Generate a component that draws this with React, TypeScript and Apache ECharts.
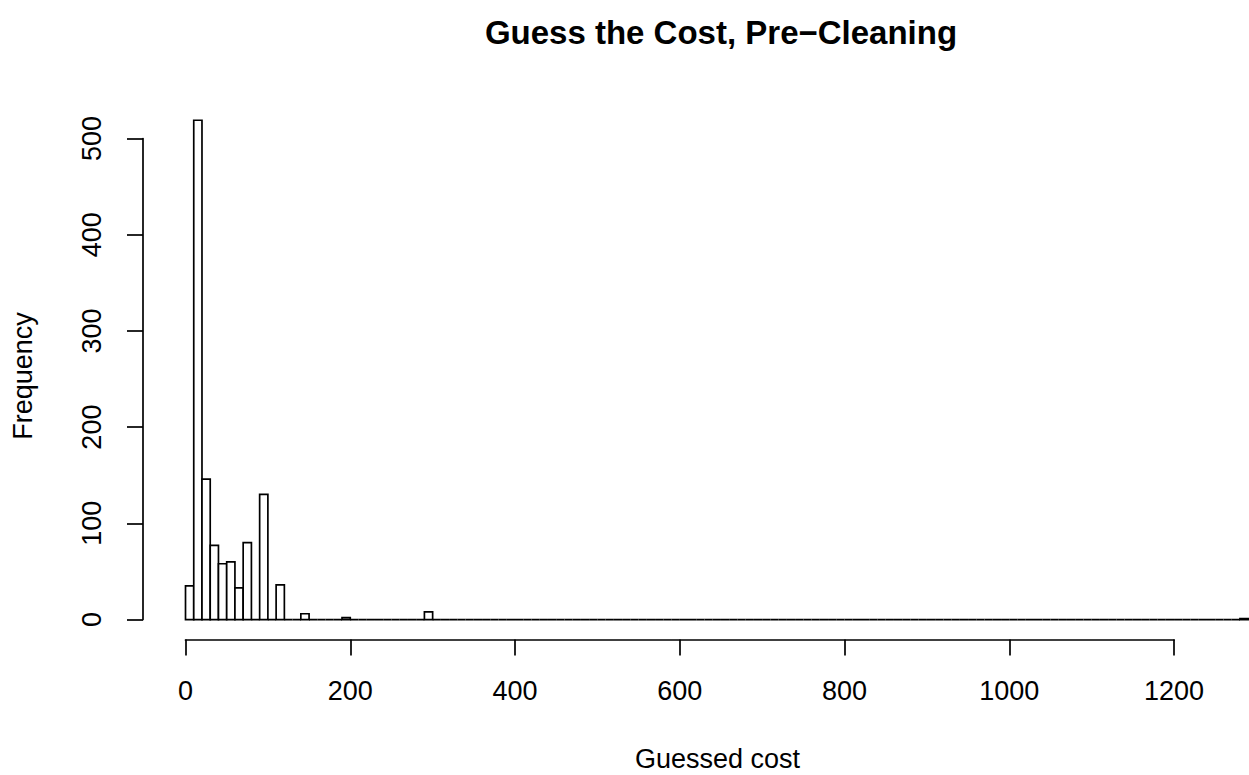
import React, { useEffect, useRef } from "react";
import * as echarts from "echarts";

// Histogram of guessed cost, bins of width 10 from 0 to 1290
const binStart = 0;
const binWidth = 10;
const counts: number[] = [
  35, 519, 146, 77, 58, 60, 33, 80, 0, 130,
  0, 36, 0, 0, 6, 0, 0, 0, 0, 2,
  0, 0, 0, 0, 0, 0, 0, 0, 0, 8,
  0, 0, 0, 0, 0, 0, 0, 0, 0, 0,
  0, 0, 0, 0, 0, 0, 0, 0, 0, 0,
  0, 0, 0, 0, 0, 0, 0, 0, 0, 0,
  0, 0, 0, 0, 0, 0, 0, 0, 0, 0,
  0, 0, 0, 0, 0, 0, 0, 0, 0, 0,
  0, 0, 0, 0, 0, 0, 0, 0, 0, 0,
  0, 0, 0, 0, 0, 0, 0, 0, 0, 0,
  0, 0, 0, 0, 0, 0, 0, 0, 0, 0,
  0, 0, 0, 0, 0, 0, 0, 0, 0, 0,
  0, 0, 0, 0, 0, 0, 0, 0, 1,
];
const xTicks = [0, 200, 400, 600, 800, 1000, 1200];
const yTicks = [0, 100, 200, 300, 400, 500];

const TITLE = "Guess the Cost, Pre\u2212Cleaning";
const XNAME = "Guessed cost";
const YNAME = "Frequency";

const FONT = "Liberation Sans, Arial, Helvetica, sans-serif";
const LW = 1.7;

export default function App() {
  const ref = useRef<HTMLDivElement>(null);
  useEffect(() => {
    if (!ref.current) return;
    const chart = echarts.init(ref.current, undefined, { renderer: "svg" });
    const binData = counts.map((c, i) => [
      binStart + i * binWidth,
      binStart + (i + 1) * binWidth,
      c,
    ]);
    const xMin = xTicks[0];
    const xMax = xTicks[xTicks.length - 1];
    const yMin = yTicks[0];
    const yMax = yTicks[yTicks.length - 1];
    const option: any = {
      animation: false,
      backgroundColor: "#ffffff",
      textStyle: { fontFamily: FONT },
      grid: [
        { left: 143, right: 0, top: 100.3, bottom: 135.5 },
        { left: 185.5, width: 988.6, top: 620, bottom: 135.5 },
        { left: 143, width: 20, top: 138.5, bottom: 155.5 },
      ],
      xAxis: [
        {
          gridIndex: 0,
          type: "value",
          min: -51.6,
          max: 1291,
          show: false,
        },
        {
          gridIndex: 1,
          type: "value",
          min: xMin,
          max: xMax,
          interval: 200,
          axisLine: { show: true, lineStyle: { color: "#000", width: LW } },
          axisTick: { show: true, length: 16, lineStyle: { color: "#000", width: LW } },
          axisLabel: {
            show: true,
            color: "#000",
            fontSize: 27,
            fontFamily: FONT,
            margin: 38,
            showMinLabel: true,
            showMaxLabel: true,
            formatter: (v: number) => String(v),
          },
          splitLine: { show: false },
        },
        { gridIndex: 2, type: "value", show: false },
      ],
      yAxis: [
        {
          gridIndex: 0,
          type: "value",
          min: -20.76,
          max: 539.76,
          show: false,
        },
        { gridIndex: 1, type: "value", show: false },
        {
          gridIndex: 2,
          type: "value",
          min: yMin,
          max: yMax,
          interval: 100,
          axisLine: { show: true, lineStyle: { color: "#000", width: LW } },
          axisTick: { show: true, length: 16, lineStyle: { color: "#000", width: LW } },
          axisLabel: {
            show: true,
            color: "#000",
            fontSize: 27,
            fontFamily: FONT,
            rotate: 90,
            margin: 38,
            showMinLabel: true,
            showMaxLabel: true,
            formatter: (v: number) => String(v),
          },
          splitLine: { show: false },
        },
      ],
      series: [
        {
          type: "custom",
          xAxisIndex: 0,
          yAxisIndex: 0,
          clip: true,
          data: binData,
          renderItem: (params: any, api: any) => {
            const x0 = api.value(0);
            const x1 = api.value(1);
            const h = api.value(2);
            const p0 = api.coord([x0, h]);
            const p1 = api.coord([x1, 0]);
            return {
              type: "rect",
              shape: {
                x: p0[0],
                y: p0[1],
                width: p1[0] - p0[0],
                height: p1[1] - p0[1],
              },
              style: { fill: "#ffffff", stroke: "#000000", lineWidth: LW },
            };
          },
        },
      ],
      graphic: [
        {
          type: "text",
          x: 721,
          y: 32,
          style: {
            text: TITLE,
            fontSize: 33,
            fontWeight: "bold",
            fontFamily: FONT,
            fill: "#000",
            align: "center",
            verticalAlign: "middle",
          },
        },
        {
          type: "text",
          x: 717.5,
          y: 759,
          style: {
            text: XNAME,
            fontSize: 27,
            fontFamily: FONT,
            fill: "#000",
            align: "center",
            verticalAlign: "middle",
          },
        },
        {
          type: "text",
          x: 23,
          y: 376,
          rotation: Math.PI / 2,
          style: {
            text: YNAME,
            fontSize: 27,
            fontFamily: FONT,
            fill: "#000",
            align: "center",
            verticalAlign: "middle",
          },
        },
      ],
    };
    chart.setOption(option);
    return () => chart.dispose();
  }, []);
  return (
    <div
      ref={ref}
      style={{ position: "absolute", left: 0, top: 0, width: 1249, height: 775 }}
    />
  );
}
